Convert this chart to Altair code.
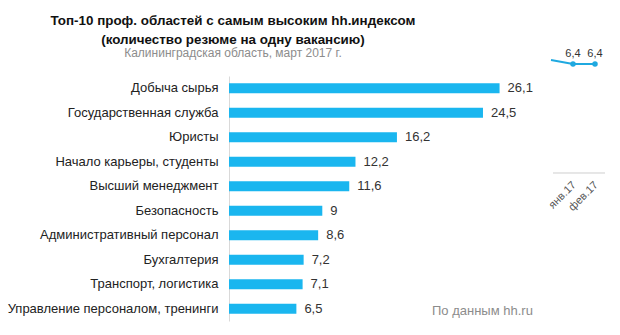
import altair as alt
import pandas as pd

# ---- data ----
categories = [
    "Добыча сырья",
    "Государственная служба",
    "Юристы",
    "Начало карьеры, студенты",
    "Высший менеджмент",
    "Безопасность",
    "Административный персонал",
    "Бухгалтерия",
    "Транспорт, логистика",
    "Управление персоналом, тренинги",
]
values = [26.1, 24.5, 16.2, 12.2, 11.6, 9, 8.6, 7.2, 7.1, 6.5]

title_line1 = "Топ-10 проф. областей с самым высоким hh.индексом"
title_line2 = "(количество резюме на одну вакансию)"
subtitle = "Калининградская область, март 2017 г."
source_note = "По данным hh.ru"

# fragment of a neighbouring chart visible on the right edge
mini_months = ["дек.16", "янв.17", "фев.17"]
mini_values = [6.6, 6.4, 6.4]

FONT = "Liberation Sans"
BAR = "#1ab6ef"

df = pd.DataFrame({"category": categories, "value": values})
mini = pd.DataFrame({"m": mini_months, "v": mini_values})

W, H = 311, 245

y_enc = alt.Y(
    "category:N",
    sort=categories,
    scale=alt.Scale(paddingInner=0.59, paddingOuter=0.295),
    axis=alt.Axis(
        title=None, ticks=False, domainColor="#d9d9d9", domainWidth=1,
        labelFont=FONT, labelFontSize=13, labelColor="#222222", labelPadding=11,
        labelLimit=400,
    ),
)
x_enc = alt.X("value:Q", scale=alt.Scale(domain=[0, 30]), axis=None)

bars = alt.Chart(df).mark_bar(color=BAR).encode(x=x_enc, y=y_enc)
bar_text = (
    alt.Chart(df)
    .transform_calculate(lab="replace(toString(datum.value), '.', ',')")
    .mark_text(align="left", baseline="middle", dx=8, font=FONT, fontSize=13, color="#333333")
    .encode(x=x_enc, y=y_enc, text="lab:N")
)
bar_part = alt.layer(bars, bar_text)

shown = alt.FieldOneOfPredicate(field="m", oneOf=mini_months[1:])
mx = alt.X("m:N", sort=mini_months, scale=alt.Scale(type="point", range=[322, 366], padding=0), axis=None)
my = alt.Y("v:Q", scale=alt.Scale(domain=[6, 7], range=[-4, -24]), axis=None)
mini_line = alt.Chart(mini).mark_line(color="#1fa9e0", strokeWidth=2).encode(x=mx, y=my)
mini_pts = (
    alt.Chart(mini).transform_filter(shown)
    .mark_point(filled=True, color="#1fa9e0", size=30, opacity=1).encode(x=mx, y=my)
)
mini_lab = (
    alt.Chart(mini)
    .transform_filter(shown)
    .transform_calculate(lab="replace(toString(datum.v), '.', ',')")
    .mark_text(baseline="middle", dy=-10, font=FONT, fontSize=11, color="#333333")
    .encode(x=mx, y=my, text="lab:N")
)
mini_axis = alt.Chart(mini).mark_rule(color="#e3e3e3").encode(
    x=alt.value(324), x2=alt.value(376), y=alt.value(97)
)
mini_months_txt = (
    alt.Chart(mini)
    .transform_filter(shown)
    .mark_text(angle=315, align="right", baseline="middle", dx=2, font=FONT, fontSize=11, color="#555555")
    .encode(x=mx, y=alt.value(109), text="m:N")
)
mini_part = alt.layer(mini_axis, mini_line, mini_pts, mini_lab, mini_months_txt)

t1 = alt.Chart(pd.DataFrame({"t": [title_line1]})).mark_text(
    align="center", baseline="alphabetic", font=FONT, fontSize=13.4, fontWeight="bold", color="#111111"
).encode(text="t:N", x=alt.value(4), y=alt.value(-51))
t2 = alt.Chart(pd.DataFrame({"t": [title_line2]})).mark_text(
    align="center", baseline="alphabetic", font=FONT, fontSize=13.4, fontWeight="bold", color="#111111"
).encode(text="t:N", x=alt.value(4), y=alt.value(-32))
t3 = alt.Chart(pd.DataFrame({"t": [subtitle]})).mark_text(
    align="center", baseline="alphabetic", font=FONT, fontSize=12, color="#8c8c8c"
).encode(text="t:N", x=alt.value(4), y=alt.value(-19))
t4 = alt.Chart(pd.DataFrame({"t": [source_note]})).mark_text(
    align="left", baseline="alphabetic", font=FONT, fontSize=13, color="#8c8c8c"
).encode(text="t:N", x=alt.value(203), y=alt.value(239))

chart = (
    alt.layer(bar_part, mini_part, t1, t2, t3, t4)
    .resolve_scale(x="independent", y="independent")
    .properties(
        width=W, height=H,
        autosize=alt.AutoSizeParams(type="none"),
        padding={"left": 229, "top": 76, "right": 80, "bottom": 14},
        background="white",
    )
    .configure_view(stroke=None)
)

chart.save("out.html", embed_options={"renderer": "svg", "actions": False})
